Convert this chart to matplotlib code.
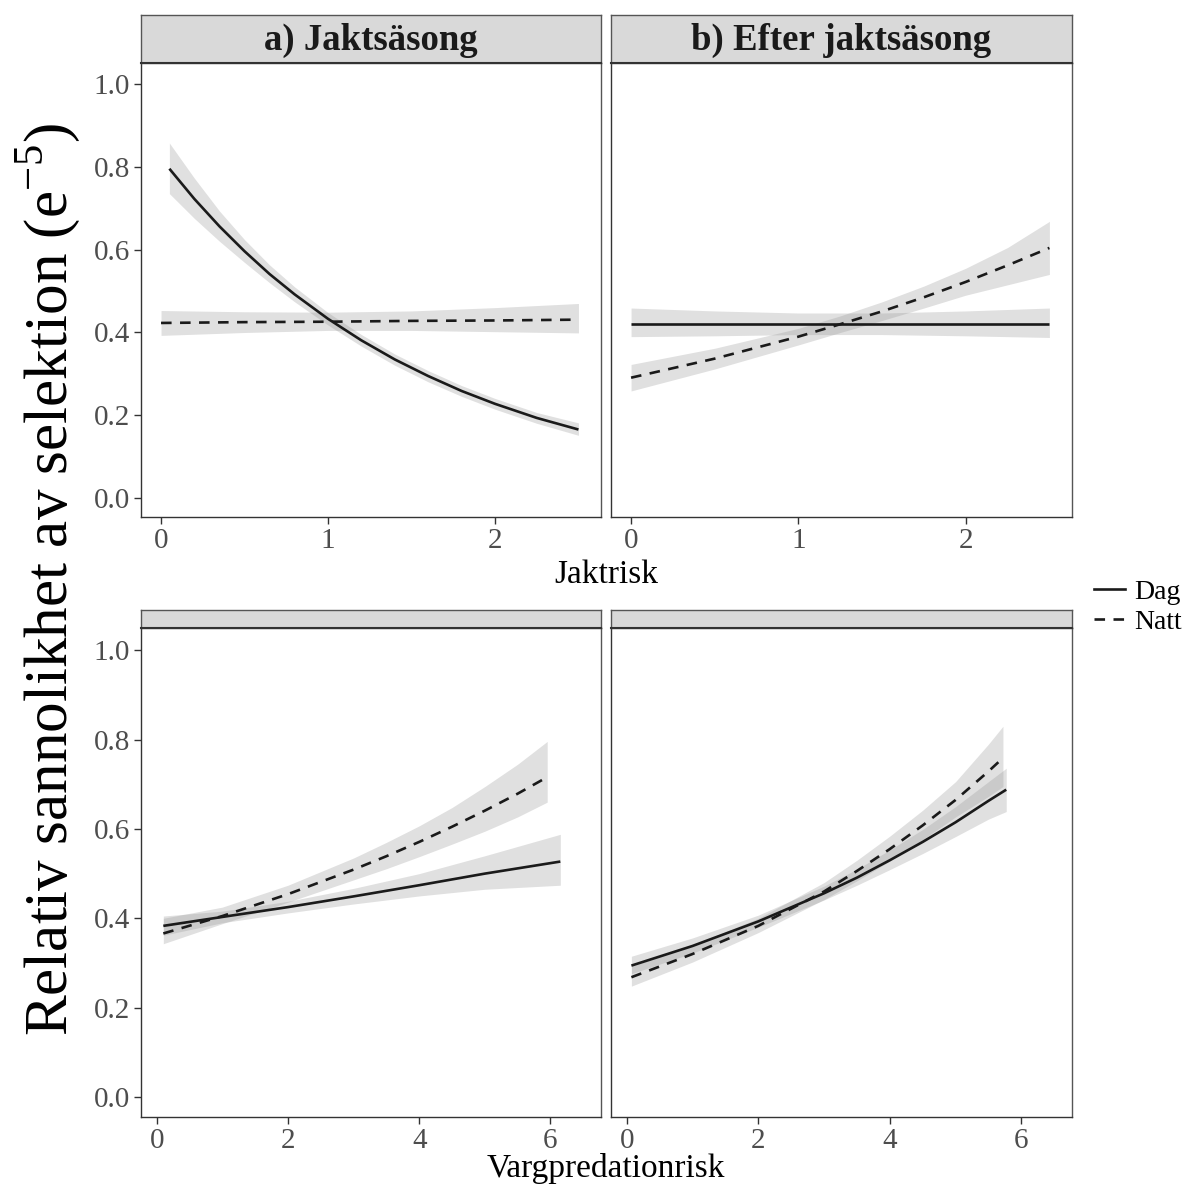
import matplotlib.pyplot as plt
from matplotlib.lines import Line2D

plt.rcParams['font.family'] = ['Liberation Serif', 'DejaVu Serif']

# a) Jaktsäsong - Jaktrisk
a_dag_x = [0.05, 0.2, 0.35, 0.5, 0.65, 0.8, 1.0, 1.2, 1.4, 1.6, 1.8, 2.0, 2.25, 2.5]
a_dag_y = [0.795, 0.722, 0.656, 0.596, 0.541, 0.492, 0.433, 0.381, 0.335, 0.295, 0.259, 0.228, 0.194, 0.166]
a_dag_hi = [0.857, 0.772, 0.693, 0.624, 0.563, 0.510, 0.448, 0.395, 0.348, 0.308, 0.272, 0.241, 0.207, 0.182]
a_dag_lo = [0.735, 0.675, 0.620, 0.569, 0.520, 0.474, 0.418, 0.367, 0.321, 0.281, 0.246, 0.215, 0.181, 0.152]
a_natt_x = [0.0, 0.5, 1.0, 1.5, 2.0, 2.5]
a_natt_y = [0.423, 0.425, 0.426, 0.428, 0.429, 0.431]
a_natt_hi = [0.453, 0.450, 0.449, 0.452, 0.460, 0.470]
a_natt_lo = [0.393, 0.400, 0.405, 0.405, 0.402, 0.399]

# b) Efter jaktsäsong - Jaktrisk
b_dag_x = [0.0, 0.5, 1.0, 1.5, 2.0, 2.5]
b_dag_y = [0.421, 0.421, 0.421, 0.421, 0.421, 0.421]
b_dag_hi = [0.459, 0.452, 0.447, 0.447, 0.452, 0.459]
b_dag_lo = [0.390, 0.392, 0.395, 0.395, 0.392, 0.388]
b_natt_x = [0.0, 0.5, 1.0, 1.25, 1.5, 1.75, 2.0, 2.25, 2.5]
b_natt_y = [0.291, 0.337, 0.390, 0.420, 0.451, 0.485, 0.522, 0.562, 0.604]
b_natt_hi = [0.323, 0.362, 0.410, 0.440, 0.474, 0.512, 0.555, 0.605, 0.668]
b_natt_lo = [0.259, 0.312, 0.370, 0.400, 0.429, 0.459, 0.490, 0.515, 0.540]

# c) Jaktsäsong - Vargpredationrisk
c_dag_x = [0.1, 1, 2, 3, 4, 5, 6.15]
c_dag_y = [0.383, 0.403, 0.425, 0.449, 0.474, 0.500, 0.527]
c_dag_hi = [0.405, 0.416, 0.438, 0.467, 0.50, 0.54, 0.588]
c_dag_lo = [0.362, 0.390, 0.412, 0.432, 0.45, 0.465, 0.474]
c_natt_x = [0.1, 1, 2, 3, 3.5, 4, 4.5, 5, 5.5, 5.95]
c_natt_y = [0.366, 0.405, 0.454, 0.509, 0.539, 0.571, 0.605, 0.641, 0.679, 0.716]
c_natt_hi = [0.400, 0.425, 0.474, 0.535, 0.570, 0.607, 0.648, 0.695, 0.745, 0.796]
c_natt_lo = [0.343, 0.388, 0.436, 0.486, 0.511, 0.538, 0.566, 0.595, 0.627, 0.660]

# d) Efter jaktsäsong - Vargpredationrisk
d_dag_x = [0.07, 1, 2, 3, 3.5, 4, 4.5, 5, 5.5, 5.77]
d_dag_y = [0.294, 0.338, 0.393, 0.456, 0.491, 0.530, 0.571, 0.615, 0.663, 0.688]
d_dag_hi = [0.315, 0.356, 0.407, 0.472, 0.510, 0.553, 0.599, 0.650, 0.706, 0.736]
d_dag_lo = [0.276, 0.322, 0.380, 0.441, 0.474, 0.509, 0.545, 0.583, 0.622, 0.639]
d_natt_x = [0.07, 1, 2, 3, 3.5, 4, 4.5, 5, 5.5, 5.72]
d_natt_y = [0.268, 0.320, 0.383, 0.460, 0.506, 0.555, 0.608, 0.665, 0.729, 0.759]
d_natt_hi = [0.292, 0.340, 0.400, 0.480, 0.530, 0.584, 0.642, 0.706, 0.790, 0.830]
d_natt_lo = [0.248, 0.302, 0.368, 0.442, 0.484, 0.528, 0.576, 0.627, 0.673, 0.695]

titles = ['a) Jaktsäsong', 'b) Efter jaktsäsong', '', '']
yticks = [0.0, 0.2, 0.4, 0.6, 0.8, 1.0]

W, H = 1189, 1187
fig = plt.figure(figsize=(W / 100, H / 100), dpi=100)

def box(x0, x1, y0, y1):
    return [x0 / W, 1 - y1 / H, (x1 - x0) / W, (y1 - y0) / H]

border = '#333333'

def panel(rect, strip_rect, title, dag, natt, xlim, xticks, show_y):
    ax = fig.add_axes(rect)
    for xs, ys, lo, hi, ls in [dag + ('-',), natt + ('--',)]:
        ax.fill_between(xs, lo, hi, color='#999999', alpha=0.3, lw=0)
        if ls == '-':
            ax.plot(xs, ys, color='#1a1a1a', lw=1.9, solid_capstyle='butt')
        else:
            ax.plot(xs, ys, color='#1a1a1a', lw=1.9, dashes=(4, 3.2))
    ax.set_xlim(xlim)
    ax.set_ylim(-0.045, 1.05)
    ax.set_xticks(xticks)
    ax.set_yticks(yticks)
    ax.yaxis.set_major_formatter(plt.FormatStrFormatter('%.1f'))
    ax.tick_params(direction='out', length=5, width=1, color=border,
                   labelcolor='#4d4d4d', labelsize=21, pad=3)
    if not show_y:
        ax.tick_params(axis='y', left=False, labelleft=False)
    for s in ax.spines.values():
        s.set_color('#555555')
        s.set_linewidth(1)
    ax.spines['bottom'].set_color(border)
    ax.spines['left'].set_color(border)
    st = fig.add_axes(strip_rect)
    st.set_facecolor('#d9d9d9')
    st.set_xticks([])
    st.set_yticks([])
    for s in st.spines.values():
        s.set_color('#555555')
        s.set_linewidth(1)
    st.spines['bottom'].set_color(border)
    st.spines['bottom'].set_linewidth(1.5)
    if title:
        st.text(0.5, 0.47, title, ha='center', va='center', fontsize=26.5,
                fontweight='bold', color='#1a1a1a', transform=st.transAxes)
    return ax

top_xlim = (-0.12, 2.635)
bot_xlim = (-0.24, 6.77)

panel(box(141, 601, 63, 517), box(141, 601, 15, 63), titles[0],
      (a_dag_x, a_dag_y, a_dag_lo, a_dag_hi),
      (a_natt_x, a_natt_y, a_natt_lo, a_natt_hi), top_xlim, [0, 1, 2], True)
panel(box(611, 1072, 63, 517), box(611, 1072, 15, 63), titles[1],
      (b_dag_x, b_dag_y, b_dag_lo, b_dag_hi),
      (b_natt_x, b_natt_y, b_natt_lo, b_natt_hi), top_xlim, [0, 1, 2], False)
panel(box(141, 601, 628, 1117), box(141, 601, 610, 628), titles[2],
      (c_dag_x, c_dag_y, c_dag_lo, c_dag_hi),
      (c_natt_x, c_natt_y, c_natt_lo, c_natt_hi), bot_xlim, [0, 2, 4, 6], True)
panel(box(611, 1072, 628, 1117), box(611, 1072, 610, 628), titles[3],
      (d_dag_x, d_dag_y, d_dag_lo, d_dag_hi),
      (d_natt_x, d_natt_y, d_natt_lo, d_natt_hi), bot_xlim, [0, 2, 4, 6], False)

fig.text(606 / W, 1 - 575 / H, 'Jaktrisk', ha='center', va='center', fontsize=24)
fig.text(606 / W, 1 - 1168 / H, 'Vargpredationrisk', ha='center', va='center', fontsize=24)
fig.text(48 / W, 1 - 580 / H, 'Relativ sannolikhet av selektion (e$^{\\mathregular{-5}}$)',
         ha='center', va='center', rotation=90, fontsize=44)

handles = [Line2D([], [], color='#1a1a1a', lw=1.9),
           Line2D([], [], color='#1a1a1a', lw=1.9, dashes=(4, 3.2))]
fig.legend(handles, ['Dag', 'Natt'], loc='center left',
           bbox_to_anchor=(1094 / W, 1 - 607 / H), frameon=False,
           fontsize=20, handlelength=1.1, handletextpad=0.35,
           labelspacing=0.15, borderpad=0, borderaxespad=0)

fig.savefig('out.png', dpi=100, facecolor='white')
